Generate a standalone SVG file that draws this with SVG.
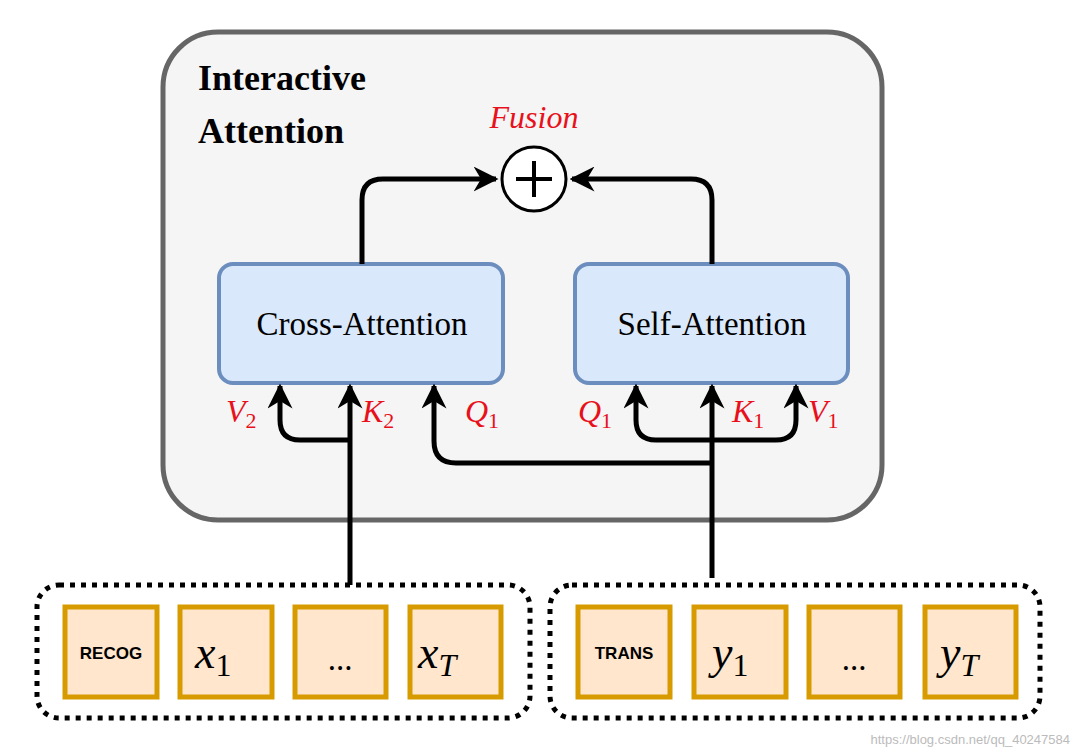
<svg xmlns="http://www.w3.org/2000/svg" width="1080" height="753" viewBox="0 0 1080 753">
<style>
.att{fill:#dae8fc;stroke:#6c8ebf;stroke-width:4}
.tok{fill:#ffe6cc;stroke:#d79b00;stroke-width:5}
.dot{fill:none;stroke:#000;stroke-width:5;stroke-dasharray:5 6}
.c{fill:none;stroke:#000;stroke-width:5;stroke-linejoin:round}
.lbl{font-family:"Liberation Serif",serif;font-style:italic;fill:#e8101a;font-size:32px}
.sub{font-size:22px;font-style:normal}
.math{font-family:"Liberation Serif",serif;font-style:italic;font-size:46px;fill:#000}
.box{font-family:"Liberation Serif",serif;font-size:33px;fill:#000;text-anchor:middle}
.small{font-family:"Liberation Sans",Arial,sans-serif;font-weight:bold;font-size:17px;text-anchor:middle}
</style>
<defs>
<marker id="ah" viewBox="0 0 10 10" refX="9" refY="5" markerWidth="5" markerHeight="5" orient="auto" markerUnits="strokeWidth">
<path d="M0,0 L10,5 L0,10 L3,5 z" fill="#000"/>
</marker>
</defs>
<rect width="1080" height="753" fill="#fff"/>
<g id="interactive">
<rect x="163" y="32" width="719" height="488" rx="55" fill="#f5f5f5" stroke="#666" stroke-width="5"/>
<text x="198" y="90" font-family="Liberation Serif,serif" font-weight="bold" font-size="36">Interactive</text>
<text x="198" y="143" font-family="Liberation Serif,serif" font-weight="bold" font-size="36">Attention</text>
</g>
<g id="fusion">
<circle cx="534" cy="179" r="32" fill="#fff" stroke="#000" stroke-width="3"/>
<path d="M516,179 H552 M534,161 V197" stroke="#000" stroke-width="4"/>
<text x="534" y="128" class="lbl" text-anchor="middle">Fusion</text>
</g>
<g id="cross">
<rect x="219" y="264" width="284" height="119" rx="14" class="att"/>
<text x="362" y="335" class="box">Cross-Attention</text>
</g>
<g id="self">
<rect x="575" y="264" width="273" height="119" rx="14" class="att"/>
<text x="712" y="335" class="box">Self-Attention</text>
</g>
<g id="labels">
<text x="226" y="422" class="lbl">V<tspan class="sub" dy="6">2</tspan></text>
<text x="362" y="422" class="lbl">K<tspan class="sub" dy="6">2</tspan></text>
<text x="465" y="422" class="lbl">Q<tspan class="sub" dy="6">1</tspan></text>
<text x="578" y="422" class="lbl">Q<tspan class="sub" dy="6">1</tspan></text>
<text x="732" y="422" class="lbl">K<tspan class="sub" dy="6">1</tspan></text>
<text x="808" y="422" class="lbl">V<tspan class="sub" dy="6">1</tspan></text>
</g>
<g id="connectors">
<path class="c" d="M362,264 V200 Q362,179 383,179 H496" marker-end="url(#ah)"/>
<path class="c" d="M712,264 V200 Q712,179 691,179 H572" marker-end="url(#ah)"/>
<path class="c" d="M350,585 V386" marker-end="url(#ah)"/>
<path class="c" d="M350,440 H300 Q280,440 280,420 V386" marker-end="url(#ah)"/>
<path class="c" d="M712,578 V386" marker-end="url(#ah)"/>
<path class="c" d="M712,440 H656 Q636,440 636,420 V386" marker-end="url(#ah)"/>
<path class="c" d="M712,440 H776 Q796,440 796,420 V386" marker-end="url(#ah)"/>
<path class="c" d="M712,463 H456 Q434,463 434,441 V386" marker-end="url(#ah)"/>
</g>
<g id="xseq">
<rect x="37" y="585" width="493" height="133" rx="22" class="dot"/>
<rect x="65" y="607" width="92" height="90" class="tok"/>
<text x="111" y="659" class="small">RECOG</text>
<rect x="180" y="607" width="92" height="90" class="tok"/>
<text x="195" y="668" class="math">x<tspan font-style="normal" font-size="32" dy="8">1</tspan></text>
<rect x="295" y="607" width="91" height="90" class="tok"/>
<text x="340" y="670" class="box">...</text>
<rect x="410" y="607" width="91" height="90" class="tok"/>
<text x="418" y="668" class="math">x<tspan font-size="32" dy="8">T</tspan></text>
</g>
<g id="yseq">
<rect x="550" y="585" width="490" height="133" rx="22" class="dot"/>
<rect x="578" y="607" width="92" height="90" class="tok"/>
<text x="624" y="659" class="small">TRANS</text>
<rect x="694" y="607" width="92" height="90" class="tok"/>
<text x="712" y="668" class="math">y<tspan font-style="normal" font-size="32" dy="8">1</tspan></text>
<rect x="809" y="607" width="91" height="90" class="tok"/>
<text x="854" y="670" class="box">...</text>
<rect x="925" y="607" width="91" height="90" class="tok"/>
<text x="940" y="668" class="math">y<tspan font-size="32" dy="8">T</tspan></text>
</g>
<text x="1070" y="744" font-family="Liberation Sans,sans-serif" font-size="13" fill="#bbb" text-anchor="end">https://blog.csdn.net/qq_40247584</text>
</svg>
